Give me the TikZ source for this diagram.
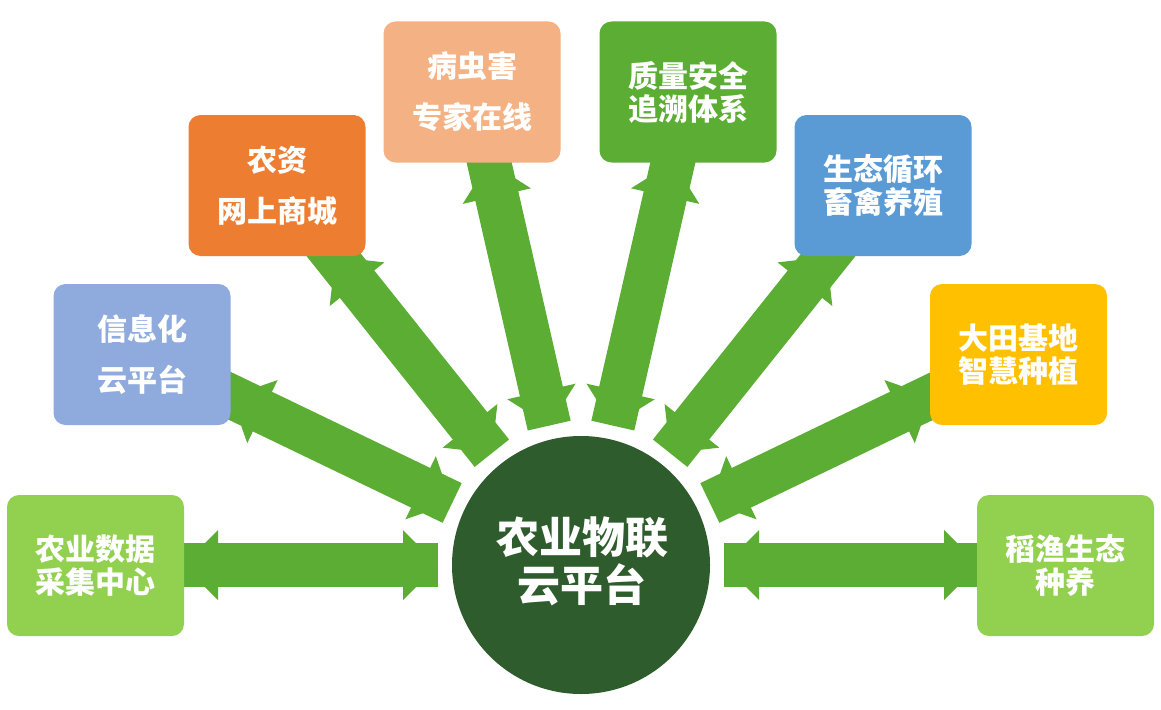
\documentclass[tikz,border=0pt]{standalone}
\usepackage{fontspec}
\newfontfamily\cjk{Noto Sans CJK SC}
\usetikzlibrary{calc}
\pgfdeclarelayer{background}
\pgfsetlayers{background,main}
\definecolor{arrowgreen}{HTML}{5BAD33}
\definecolor{hubgreen}{HTML}{2E5C2C}
\definecolor{lightgreen}{HTML}{92D050}
\definecolor{paleblue}{HTML}{8FAADC}
\definecolor{orangebox}{HTML}{ED7D31}
\definecolor{peach}{HTML}{F4B183}
\definecolor{midblue}{HTML}{5B9BD5}
\definecolor{gold}{HTML}{FFC000}
\tikzset{
  box/.style={rounded corners=12pt, minimum width=177pt, minimum height=141pt,
    text=white, align=center, inner sep=0pt,
    font=\cjk\bfseries\fontsize{30}{33}\selectfont},
  loose/.style={font=\cjk\bfseries\fontsize{30}{51}\selectfont},
  hub/.style={circle, minimum size=258pt, inner sep=0pt, fill=hubgreen},
  bar/.style={arrowgreen, line width=44pt},
}
% #1 inner tip, #2 outer tip
\newcommand\biarrow[2]{%
  \coordinate (P1) at ($(#1)!35pt!(#2)$);
  \coordinate (P2) at ($(#2)!35pt!(#1)$);
  \draw[bar] (#1) -- ($(#2)!-22pt!(#1)$);
  \fill[arrowgreen] (#1) -- ($(P1)!35pt!90:(#2)$) -- ($(P1)!35pt!-90:(#2)$) -- cycle;
  \fill[arrowgreen] (#2) -- ($(P2)!35pt!90:(#1)$) -- ($(P2)!35pt!-90:(#1)$) -- cycle;
}
\begin{document}
\begin{tikzpicture}[x=1pt,y=-1pt]
\useasboundingbox (0,0) rectangle (1161,709);

\node[hub] (c) at (581,565) {};
\node[text=white, align=center, font=\cjk\bfseries\fontsize{43}{48}\selectfont] (ct) at (582,561) {农业物联\\云平台};

\node[box, fill=lightgreen] (b1) at (95.5,565.5) {农业数据\\采集中心};
\node[box, loose, fill=paleblue] (b2) at (142,354.5) {信息化\\云平台};
\node[box, loose, fill=orangebox] (b3) at (277,185.5) {农资\\网上商城};
\node[box, loose, fill=peach] (b4) at (472,92) {病虫害\\专家在线};
\node[box, fill=arrowgreen] (b5) at (688,92) {质量安全\\追溯体系};
\node[box, fill=midblue] (b6) at (883,185.5) {生态循环\\畜禽养殖};
\node[box, fill=gold] (b7) at (1018.5,354.5) {大田基地\\智慧种植};
\node[box, fill=lightgreen] (b8) at (1065.5,565.5) {稻渔生态\\种养};

% outer tips on box edges, inner tips near the hub
\coordinate (o1) at ($(c.center)+(180:398)$);
\coordinate (o2) at ($(c.center)+(205.714:388.6)$);
\coordinate (o3) at ($(c.center)+(231.429:394.2)$);
\coordinate (o4) at ($(c.center)+(257.143:413.4)$);
\coordinate (o5) at ($(c.center)+(282.857:413.4)$);
\coordinate (o6) at ($(c.center)+(308.571:394.2)$);
\coordinate (o7) at ($(c.center)+(334.286:388.6)$);
\coordinate (o8) at ($(c.center)+(0:398)$);
\foreach \k/\a in {1/180,2/205.714,3/231.429,4/257.143,5/282.857,6/308.571,7/334.286,8/0}{
  \coordinate (i\k) at ($(c.center)+(\a:143)$);
}
\begin{pgfonlayer}{background}
\fill[white] (0,0) rectangle (1161,709);
\foreach \k in {1,...,8}{ \biarrow{i\k}{o\k} }
\end{pgfonlayer}
\end{tikzpicture}
\end{document}
